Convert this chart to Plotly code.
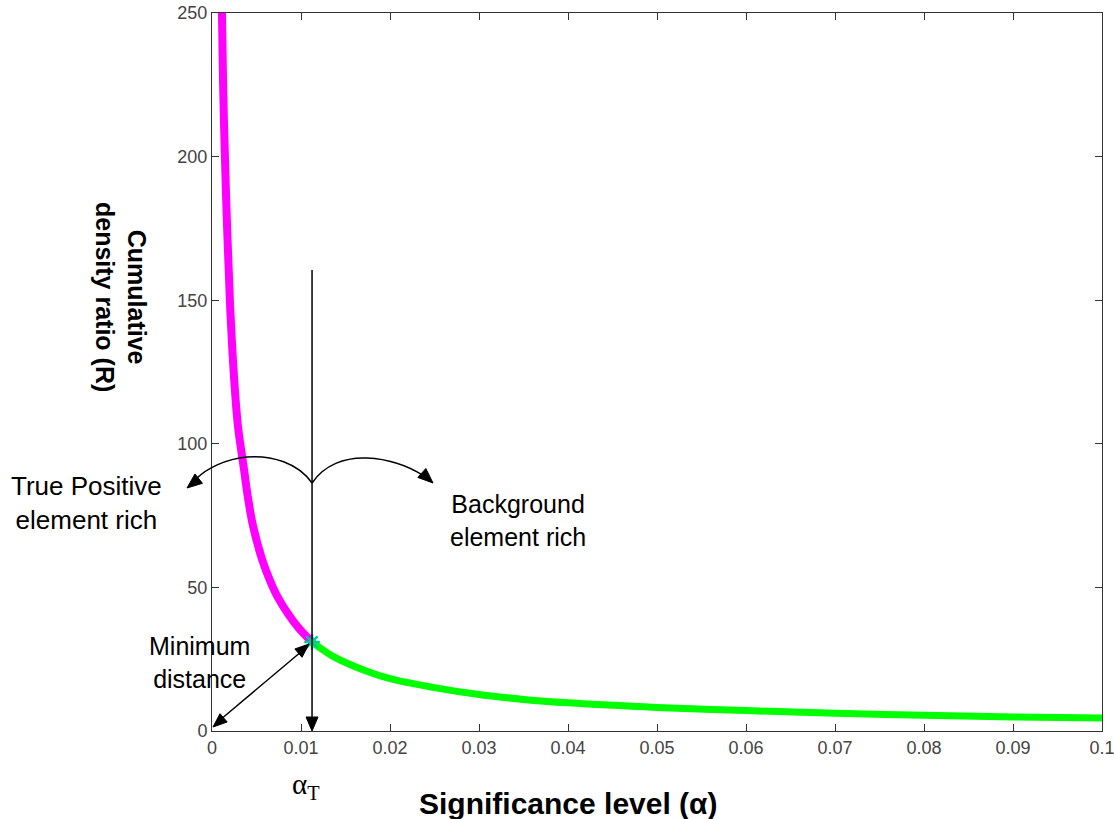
import math
import plotly.graph_objects as go

# ---- data ----
alpha_tp = [0.00112, 0.00124, 0.00146, 0.0017, 0.00202, 0.0025, 0.00292, 0.0036,
            0.0040, 0.0046, 0.0056, 0.0065, 0.0074, 0.0085, 0.0097, 0.01124]
R_tp = [250, 226, 199, 175, 149, 122, 106, 91, 82, 71.5, 60, 52.5, 46.5, 41, 36, 31]

alpha_bg = [0.01124, 0.0136, 0.0174, 0.02, 0.0248, 0.03, 0.035, 0.04, 0.05,
            0.06, 0.07, 0.08, 0.09, 0.1]
R_bg = [31, 26.0, 20.8, 18.2, 15.2, 12.7, 11.0, 9.8, 8.2, 7.1, 6.2, 5.5, 4.9, 4.5]

alpha_T = 0.01124
R_T = 31
R_line_top = 160.5

x_ticks = [0, 0.01, 0.02, 0.03, 0.04, 0.05, 0.06, 0.07, 0.08, 0.09, 0.1]
x_ticklabels = ["0", "0.01", "0.02", "0.03", "0.04", "0.05", "0.06", "0.07", "0.08", "0.09", "0.1"]
y_ticks = [0, 50, 100, 150, 200, 250]
x_max = 0.1
y_max = 250

# ---- layout geometry ----
W, H = 1114, 819
L, R_, T, B = 212, 12, 13, 88
PW = W - L - R_
PH = H - T - B

def pxx(x):
    return (x - L) / PW

def pxy(y):
    return (T + PH - y) / PH

def X(a):
    return L + a / x_max * PW

def Y(r):
    return T + PH - r / y_max * PH

def tri(tx, ty, dx, dy, ln=14, wd=12):
    n = math.hypot(dx, dy)
    ux, uy = dx / n, dy / n
    bx, by = tx - ln * ux, ty - ln * uy
    qx, qy = -uy, ux
    p1 = (bx + wd / 2 * qx, by + wd / 2 * qy)
    p2 = (bx - wd / 2 * qx, by - wd / 2 * qy)
    return (f"M {pxx(tx)},{pxy(ty)} L {pxx(p1[0])},{pxy(p1[1])} "
            f"L {pxx(p2[0])},{pxy(p2[1])} Z")

def path(points_cmd):
    s = ""
    for cmd, pts in points_cmd:
        s += cmd + " " + " ".join(f"{pxx(x)},{pxy(y)}" for x, y in pts) + " "
    return s.strip()

fig = go.Figure()
fig.add_trace(go.Scatter(x=alpha_tp, y=R_tp, mode="lines",
                         line=dict(color="#ff00ff", width=8, shape="spline"),
                         hoverinfo="skip"))
fig.add_trace(go.Scatter(x=alpha_bg, y=R_bg, mode="lines",
                         line=dict(color="#00ff00", width=7, shape="spline"),
                         hoverinfo="skip"))
fig.add_trace(go.Scatter(x=[alpha_T], y=[R_T], mode="markers",
                         marker=dict(symbol="asterisk-open", size=13,
                                     line=dict(color="blue", width=2.5)),
                         hoverinfo="skip"))

shapes = []
xT = X(alpha_T)
yT = Y(R_T)
y0 = Y(0)
# vertical line with arrow
shapes.append(dict(type="line", xref="paper", yref="paper",
                   x0=pxx(xT), x1=pxx(xT), y0=pxy(Y(R_line_top)), y1=pxy(y0 - 10),
                   line=dict(color="black", width=1.5)))
shapes.append(dict(type="path", xref="paper", yref="paper",
                   path=tri(xT, y0, 0, 1, ln=14, wd=12),
                   fillcolor="black", line=dict(color="black", width=1)))
# double arrow (minimum distance)
x0p = X(0)
shapes.append(dict(type="line", xref="paper", yref="paper",
                   x0=pxx(x0p + 8), y0=pxy(y0 - 11), x1=pxx(xT - 10), y1=pxy(yT + 9),
                   line=dict(color="black", width=1.5)))
dxd, dyd = xT - 3 - (x0p + 1), (yT + 2) - (y0 - 4)
shapes.append(dict(type="path", xref="paper", yref="paper",
                   path=tri(xT - 3, yT + 2, dxd, dyd, ln=14, wd=11),
                   fillcolor="black", line=dict(color="black", width=1)))
shapes.append(dict(type="path", xref="paper", yref="paper",
                   path=tri(x0p + 1, y0 - 4, -dxd, -dyd, ln=14, wd=11),
                   fillcolor="black", line=dict(color="black", width=1)))
# arcs
yj = 483
shapes.append(dict(type="path", xref="paper", yref="paper",
                   path=path([("M", [(xT, yj)]),
                              ("C", [(xT - 14, yj - 20), (272, 455), (247, 457)]),
                              ("C", [(226, 459), (207, 468), (196, 479)])]),
                   line=dict(color="black", width=1.5)))
shapes.append(dict(type="path", xref="paper", yref="paper",
                   path=tri(187, 488, -1, 0.8, ln=15, wd=12),
                   fillcolor="black", line=dict(color="black", width=1)))
shapes.append(dict(type="path", xref="paper", yref="paper",
                   path=path([("M", [(xT, yj)]),
                              ("C", [(xT + 12, yj - 18), (345, 457), (367, 458)]),
                              ("C", [(390, 459), (410, 467), (424, 476)])]),
                   line=dict(color="black", width=1.5)))
shapes.append(dict(type="path", xref="paper", yref="paper",
                   path=tri(433, 483, 1, 0.9, ln=15, wd=12),
                   fillcolor="black", line=dict(color="black", width=1)))

fnt = "Liberation Sans, Arial, sans-serif"
ann = []
def add_text(text, cx, cy, size, bold=False, angle=0, family=fnt):
    ann.append(dict(text=f"<b>{text}</b>" if bold else text,
                    xref="paper", yref="paper", x=pxx(cx), y=pxy(cy),
                    xanchor="center", yanchor="middle", showarrow=False,
                    textangle=angle, font=dict(family=family, size=size, color="black")))

add_text("Cumulative<br>density ratio (R)", 121, 297, 25, bold=True, angle=90)
add_text("Significance level (α)", 568, 803, 30, bold=True)
add_text("α<sub>T</sub>", 306, 786, 29, family="Liberation Serif, Times New Roman, serif")
add_text("True Positive<br>element rich", 87, 503, 26)
add_text("Background<br>element rich", 518, 520, 25)
add_text("Minimum<br>distance", 199, 662, 25)

axis_common = dict(showline=True, linecolor="#333", linewidth=1, mirror="ticks",
                   ticks="inside", ticklen=7, tickcolor="#333", showgrid=False,
                   zeroline=False, automargin=False, ticklabeloverflow="allow",
                   tickfont=dict(family=fnt, size=18, color="#444"))

fig.update_layout(
    width=W, height=H, margin=dict(l=L, r=R_, t=T, b=B, autoexpand=False),
    paper_bgcolor="white", plot_bgcolor="white", showlegend=False,
    xaxis=dict(range=[0, x_max], tickvals=x_ticks, ticktext=x_ticklabels, **axis_common),
    yaxis=dict(range=[0, y_max], tickvals=y_ticks, **axis_common),
    shapes=shapes, annotations=ann,
)
fig.write_html("out.html")
